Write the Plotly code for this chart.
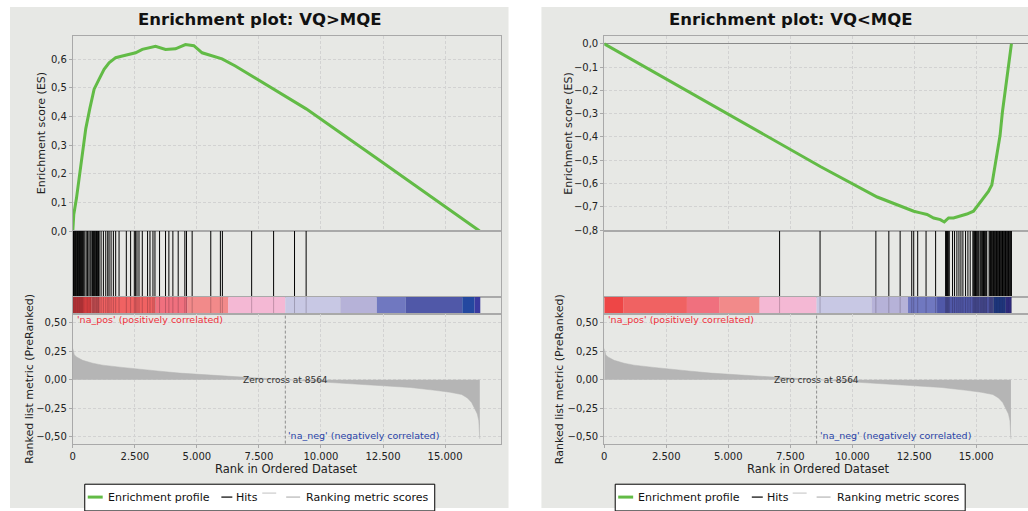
import plotly.graph_objects as go

W, H = 1028, 511

# ---------------- data ----------------
zero_cross = 8564

# ranked list metric (shared by both panels)
metric_rank = [0, 20, 60, 150, 400, 800, 1200, 2000, 2545, 3500, 4300, 5220, 6000, 6830,
               7700, 8564, 9500, 10580, 11600, 12580, 13600, 14600, 15200, 15670, 15900,
               16070, 16200, 16300, 16360, 16395, 16400]
metric_score = [0.274, 0.25, 0.22, 0.20, 0.17, 0.145, 0.128, 0.108, 0.098, 0.075, 0.058, 0.043,
                0.033, 0.023, 0.012, 0.0, -0.012, -0.023, -0.036, -0.05, -0.068, -0.093, -0.11,
                -0.13, -0.16, -0.20, -0.25, -0.30, -0.36, -0.45, -0.52]

# running enrichment score, VQ>MQE
es_up_rank = [0, 40, 149, 257, 390, 523, 683, 859, 1060, 1261, 1462, 1728, 1997, 2266, 2532,
              2800, 3335, 3737, 4138, 4540, 4877, 5211, 5613, 6013, 6549, 7218, 8093, 8960,
              9403, 12443, 16393]
es_up_score = [0.0, 0.058, 0.115, 0.185, 0.277, 0.358, 0.427, 0.496, 0.531, 0.565, 0.588, 0.606,
               0.612, 0.618, 0.623, 0.635, 0.646, 0.635, 0.637, 0.652, 0.648, 0.623, 0.612, 0.602,
               0.577, 0.542, 0.494, 0.450, 0.427, 0.242, 0.0]

# running enrichment score, VQ<MQE
es_down_rank = [0, 7056, 8730, 11008, 12480, 12748, 13017, 13283, 13552, 13713, 13886, 14086,
                14355, 14624, 14890, 15091, 15292, 15492, 15629, 15762, 15854, 15962, 16055,
                16163, 16256, 16364, 16420]
es_down_score = [0.0, -0.428, -0.528, -0.658, -0.719, -0.726, -0.733, -0.748, -0.755, -0.765,
                 -0.748, -0.748, -0.741, -0.731, -0.719, -0.691, -0.663, -0.634, -0.606, -0.521,
                 -0.478, -0.393, -0.294, -0.209, -0.138, -0.053, 0.0]

# gene set member positions in the ranked list
hits_up = [3, 28, 55, 79, 104, 131, 160, 186, 212, 239, 265, 291, 318, 344, 372, 398, 425,
           482, 540, 596, 650, 700, 739, 790, 815, 842, 868, 900, 930, 958, 985, 1012, 1040,
           1060, 1140, 1233, 1328, 1408, 1462, 1543, 1635, 1728, 1864, 2157, 2330, 2479, 2532,
           2587, 2667, 2800, 3013, 3110, 3230, 3311, 3496, 3737, 3872, 4033, 4247, 4515, 4581,
           4809, 5560, 5947, 6028, 7207, 8091, 8934, 9402]
hits_down = [7071, 8703, 10953, 11476, 11932, 12400, 12480, 12640, 12977, 13363, 13765, 13800,
             13840, 13875, 13913, 14046, 14126, 14220, 14303, 14383, 14463, 14570, 14665, 14757,
             14865, 14900, 14935, 14970, 15005, 15040, 15075, 15106, 15158, 15190, 15225, 15260,
             15295, 15330, 15365, 15400, 15426, 15520, 15550, 15580, 15610, 15640, 15670, 15700,
             15730, 15760, 15790, 15820, 15850, 15880, 15910, 15940, 15970, 16000, 16030, 16060,
             16090, 16120, 16150, 16180, 16210, 16240, 16270, 16300, 16330, 16360, 16390, 16420]

# colour band of the ranked list (segment edges and colours)
band_edges = [0, 763, 3335, 4632, 6267, 8564, 10780, 12250, 13420, 15695, 16190, 16420]
band_colors = ['#ee4646', '#f06262', '#f0707e', '#f28a8a', '#f4b8d4', '#c8c8e4', '#b6b2d8',
               '#7078c0', '#5058a8', '#2448a0', '#3a3aa0']

x_ticks = [0, 2500, 5000, 7500, 10000, 12500, 15000]

# ---------------- styling ----------------
FONT = 'DejaVu Sans'
GREEN = '#62bb46'
PANEL_BG = '#e7e8e5'
BORDER = '#a9a9a9'
GRID = '#d2d2d2'


def fx(px):
    return px / W


def fy(py):
    return 1 - py / H


panels = [
    dict(title='Enrichment plot: VQ>MQE', es_x=es_up_rank, es_y=es_up_score, hits=hits_up,
         left=70, right=499, xmax=17236, es_range=[0, 0.683], es_dtick=0.1,
         bg=(7, 507), title_x=257, ytitle_es=38, ytitle_m=27, mirror=True),
    dict(title='Enrichment plot: VQ<MQE', es_x=es_down_rank, es_y=es_down_score, hits=hits_down,
         left=603, right=1028, xmax=17088, es_range=[-0.804, 0.035], es_dtick=0.1,
         bg=(540, 1028), title_x=790, ytitle_es=567, ytitle_m=558, mirror=False),
]

# vertical extents (px from top)
ES_TOP, ES_BOT = 36, 233.3
HIT_BOT = 299.5
BAND_BOT = 317
M_BOT = 448

traces = []
layout = dict(width=W, height=H, autosize=False, margin=dict(l=0, r=0, t=0, b=0),
              paper_bgcolor='white', plot_bgcolor='white', showlegend=False,
              separators=',.', barmode='overlay',
              font=dict(family=FONT, size=10, color='#222222'))
shapes, annotations = [], []


def note(text, x, y, size, color='#222', xref='paper', yref='paper', xanchor='center',
         yanchor='middle', angle=0, xshift=0):
    return dict(text=text, x=x, y=y, xref=xref, yref=yref, xanchor=xanchor, yanchor=yanchor,
                showarrow=False, textangle=angle, xshift=xshift,
                font=dict(size=size, family=FONT, color=color))


def hit_xy(ranks):
    xs, ys = [], []
    for r in ranks:
        xs += [r, r, None]
        ys += [0, 1, None]
    return xs, ys


for p, pan in enumerate(panels):
    ids = [p * 4 + k + 1 for k in range(4)]
    dom_x = [fx(pan['left']), fx(pan['right'])]
    ydoms = [[fy(ES_BOT), fy(ES_TOP)], [fy(HIT_BOT), fy(ES_BOT)],
             [fy(BAND_BOT), fy(HIT_BOT)], [fy(M_BOT), fy(BAND_BOT)]]
    for k, i in enumerate(ids):
        xa = dict(domain=dom_x, range=[0, pan['xmax']], showline=True, mirror=True,
                  linecolor=BORDER, linewidth=1, zeroline=False, tickvals=x_ticks,
                  tickformat=',d', showticklabels=(k == 3), showgrid=(k in (0, 3)),
                  gridcolor=GRID, griddash='3px,2px', gridwidth=1,
                  ticks='outside' if k == 3 else '', ticklen=3, tickcolor=BORDER,
                  tickfont=dict(size=10, family=FONT, color='#222'),
                  anchor='y' + str(i), fixedrange=True)
        ya = dict(domain=ydoms[k], showline=True, mirror=pan['mirror'], linecolor=BORDER,
                  linewidth=1, anchor='x' + str(i), fixedrange=True,
                  tickfont=dict(size=10, family=FONT, color='#222'))
        if k == 0:
            ya.update(range=pan['es_range'], dtick=pan['es_dtick'], tick0=0, tickformat='.1f',
                      showgrid=True, gridcolor=GRID, griddash='3px,2px', ticks='outside',
                      ticklen=3, tickcolor=BORDER, zeroline=(p == 1), zerolinecolor='#8a8a8a',
                      zerolinewidth=1)
        elif k == 3:
            ya.update(range=[-0.561, 0.578], tickvals=[-0.5, -0.25, 0, 0.25, 0.5],
                      tickformat='.2f', showgrid=True, gridcolor=GRID, griddash='3px,2px',
                      ticks='outside', ticklen=3, tickcolor=BORDER, zeroline=False)
        else:
            ya.update(range=[0, 1], showticklabels=False, showgrid=False, zeroline=False,
                      ticks='')
        layout['xaxis' + ('' if i == 1 else str(i))] = xa
        layout['yaxis' + ('' if i == 1 else str(i))] = ya

    xs = ['x' + ('' if i == 1 else str(i)) for i in ids]
    ys = ['y' + ('' if i == 1 else str(i)) for i in ids]

    # running enrichment score
    traces.append(go.Scatter(x=pan['es_x'], y=pan['es_y'], mode='lines',
                             line=dict(color=GREEN, width=3), xaxis=xs[0], yaxis=ys[0],
                             hoverinfo='skip'))
    # hits
    hx, hy = hit_xy(pan['hits'])
    traces.append(go.Scatter(x=hx, y=hy, mode='lines', line=dict(color='black', width=1),
                             xaxis=xs[1], yaxis=ys[1], hoverinfo='skip'))
    # colour band of the ranked list, with the hits shaded over it
    widths = [band_edges[j + 1] - band_edges[j] for j in range(len(band_colors))]
    traces.append(go.Bar(x=widths, base=band_edges[:-1], y=[0.5] * len(widths), width=1,
                         orientation='h', marker=dict(color=band_colors, line=dict(width=0)),
                         xaxis=xs[2], yaxis=ys[2], hoverinfo='skip'))
    traces.append(go.Scatter(x=hx, y=hy, mode='lines',
                             line=dict(color='rgba(20,0,20,0.22)', width=1),
                             xaxis=xs[2], yaxis=ys[2], hoverinfo='skip'))
    # ranked list metric
    traces.append(go.Scatter(x=metric_rank, y=metric_score, mode='lines', fill='tozeroy',
                             fillcolor='#b5b5b5', line=dict(color='#b5b5b5', width=0.5),
                             xaxis=xs[3], yaxis=ys[3], hoverinfo='skip'))
    shapes.append(dict(type='line', xref=xs[3], yref=ys[3] + ' domain', x0=zero_cross,
                       x1=zero_cross, y0=0, y1=1,
                       line=dict(color='#8e8e8e', width=1, dash='3px,2px')))

    # panel background
    shapes.append(dict(type='rect', xref='paper', yref='paper', x0=fx(pan['bg'][0]),
                       x1=fx(pan['bg'][1]), y0=fy(H + 2), y1=fy(7), fillcolor=PANEL_BG,
                       line=dict(width=0), layer='below'))

    # texts
    title = pan['title'].replace('>', '&gt;').replace('<', '&lt;')
    annotations += [
        note('<b>' + title + '</b>', fx(pan['title_x']), fy(20), 16.5, '#111'),
        note('Enrichment score (ES)', fx(pan['ytitle_es']), fy((ES_TOP + ES_BOT) / 2), 11,
             angle=-90),
        note('Ranked list metric (PreRanked)', fx(pan['ytitle_m']), fy((BAND_BOT + M_BOT) / 2),
             11, angle=-90),
        note('Rank in Ordered Dataset', fx(pan['left'] + 214.5), fy(474), 11.5),
        note("'na_pos' (positively correlated)", fx(pan['left'] + 2), fy(323), 9.5, '#f0303c',
             xanchor='left'),
        note("'na_neg' (negatively correlated)", zero_cross, fy(440), 9.5, '#2a44a8',
             xref=xs[3], xanchor='left', xshift=1),
        note('Zero cross at 8564', zero_cross, 0, 9, '#333', xref=xs[3], yref=ys[3]),
    ]

    # legend box
    L = 82 if p == 0 else 614
    shapes.append(dict(type='rect', xref='paper', yref='paper', x0=fx(L), x1=fx(L + 351),
                       y0=fy(H + 5), y1=fy(489), fillcolor='white',
                       line=dict(color='black', width=1)))
    for (a, b, yy, col, wd) in [(3, 18, 502, GREEN, 3), (137, 148, 502, 'black', 1.2),
                                (178, 192, 498, '#d6d6d6', 1.5), (202, 216, 502, '#c4c4c4', 1.5)]:
        shapes.append(dict(type='line', xref='paper', yref='paper', x0=fx(L + a), x1=fx(L + b),
                           y0=fy(yy), y1=fy(yy), line=dict(color=col, width=wd)))
    for (a, t) in [(21, 'Enrichment profile'), (150, 'Hits'), (220, 'Ranking metric scores')]:
        annotations.append(note(t, fx(L + a), fy(502), 11, '#111', xanchor='left'))

layout['shapes'] = shapes
layout['annotations'] = annotations
fig = go.Figure(data=traces, layout=layout)
fig.write_html('out.html')
